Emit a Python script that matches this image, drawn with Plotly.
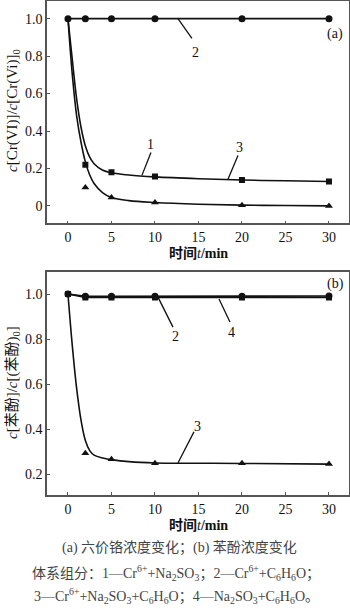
import plotly.graph_objects as go

# ---- measured data ----
t_pts = [0, 2, 5, 10, 20, 30]

# (a) Cr(VI) relative concentration
a_sys1 = [1.0, 0.22, 0.179, 0.157, 0.138, 0.13]      # squares
a_sys2 = [1.0, 1.0, 1.0, 1.0, 1.0, 1.0]              # circles
a_sys3 = [1.0, 0.098, 0.045, 0.018, 0.003, 0.0]      # triangles

# fitted curves for panel (a)
a_fit_t = [0, 0.5, 1, 1.5, 2, 2.5, 3, 4, 5, 7, 10, 15, 20, 25, 30]
a_fit_upper = [1.0, 0.78, 0.57, 0.42, 0.32, 0.26, 0.225, 0.19, 0.177, 0.165, 0.155, 0.145, 0.138, 0.134, 0.13]
a_fit_lower = [1.0, 0.70, 0.48, 0.34, 0.235, 0.165, 0.12, 0.07, 0.045, 0.028, 0.018, 0.009, 0.004, 0.002, 0.0]

# (b) phenol relative concentration
b_sys2 = [1.0, 0.99, 0.99, 0.99, 0.99, 0.991]        # circles
b_sys4 = [1.0, 0.985, 0.985, 0.985, 0.985, 0.985]    # squares
b_sys3 = [1.0, 0.293, 0.267, 0.249, 0.249, 0.246]    # triangles

b_fit_t = [0, 0.5, 1, 1.5, 2, 2.5, 3, 4, 5, 7, 10, 15, 20, 30]
b_fit = [1.0, 0.77, 0.58, 0.44, 0.35, 0.305, 0.285, 0.272, 0.265, 0.256, 0.25, 0.249, 0.248, 0.245]

x_ticks = [0, 5, 10, 15, 20, 25, 30]
ya_ticks = [0, 0.2, 0.4, 0.6, 0.8, 1.0]
ya_labels = ["0", "0.2", "0.4", "0.6", "0.8", "1.0"]
yb_ticks = [0.2, 0.4, 0.6, 0.8, 1.0]
yb_labels = ["0.2", "0.4", "0.6", "0.8", "1.0"]

SERIF = "Liberation Serif, Times New Roman, Noto Sans CJK SC, serif"
CJK = "Liberation Serif, Noto Sans CJK SC, serif"
BLACK = "#111111"
FRAME = "#555555"

fig = go.Figure()

def line(x, y, xa, ya, shape="linear"):
    fig.add_trace(go.Scatter(x=x, y=y, mode="lines", xaxis=xa, yaxis=ya,
                             line=dict(color=BLACK, width=1.6, shape=shape, smoothing=1.0),
                             hoverinfo="skip", showlegend=False))

def marks(x, y, xa, ya, symbol, size):
    fig.add_trace(go.Scatter(x=x, y=y, mode="markers", xaxis=xa, yaxis=ya,
                             marker=dict(symbol=symbol, size=size, color=BLACK),
                             showlegend=False))

# panel (a)
line(a_fit_t, a_fit_upper, "x", "y", "spline")
line(a_fit_t, a_fit_lower, "x", "y", "spline")
line(t_pts, a_sys2, "x", "y")
marks(t_pts[1:], a_sys1[1:], "x", "y", "square", 6)
marks(t_pts[1:], a_sys3[1:], "x", "y", "triangle-up", 7)
marks(t_pts, a_sys2, "x", "y", "circle", 7)

# panel (b)
line(b_fit_t, b_fit, "x2", "y2", "spline")
line(t_pts, b_sys4, "x2", "y2")
line(t_pts, b_sys2, "x2", "y2")
marks(t_pts[1:], b_sys3[1:], "x2", "y2", "triangle-up", 7)
marks(t_pts, b_sys4, "x2", "y2", "square", 6)
marks(t_pts, b_sys2, "x2", "y2", "circle", 7)

H = 609.0
W = 350.0
xdom = [47 / W, 349 / W]

axis_common = dict(showline=True, linecolor=FRAME, linewidth=1.5, mirror=True,
                   ticks="inside", ticklen=3, tickcolor=FRAME, tickwidth=1,
                   showgrid=False, zeroline=False,
                   tickfont=dict(family=SERIF, size=14, color=BLACK))

fig.update_layout(
    width=350, height=609,
    margin=dict(l=0, r=0, t=0, b=0),
    paper_bgcolor="white", plot_bgcolor="white",
    xaxis=dict(domain=xdom, range=[-2.41, 32.3], tickvals=x_ticks, anchor="y", **axis_common),
    yaxis=dict(domain=[1 - 223.3 / H, 1 - 0.5 / H], range=[-0.093, 1.097],
               tickvals=ya_ticks, ticktext=ya_labels, anchor="x", **axis_common),
    xaxis2=dict(domain=xdom, range=[-2.41, 32.3], tickvals=x_ticks, anchor="y2", **axis_common),
    yaxis2=dict(domain=[1 - 495 / H, 1 - 271.7 / H], range=[0.108, 1.099],
                tickvals=yb_ticks, ticktext=yb_labels, anchor="x2", **axis_common),
)

ann = []
shapes = []

def label(text, x, y, xr, yr, size=14):
    ann.append(dict(text=text, x=x, y=y, xref=xr, yref=yr, showarrow=False,
                    font=dict(family=SERIF, size=size, color=BLACK)))

def leader(x0, y0, x1, y1, xr, yr):
    shapes.append(dict(type="line", x0=x0, y0=y0, x1=x1, y1=y1, xref=xr, yref=yr,
                       line=dict(color=BLACK, width=1.3)))

# panel (a) curve labels
label("2", 14.7, 0.819, "x", "y")
leader(12.64, 1.0, 14.25, 0.895, "x", "y")
label("1", 9.54, 0.328, "x", "y")
leader(9.54, 0.285, 8.5, 0.163, "x", "y")
label("3", 19.77, 0.312, "x", "y")
leader(19.54, 0.269, 18.39, 0.142, "x", "y")
label("(a)", 30.7, 0.92, "x", "y")

# panel (b) curve labels
label("2", 12.41, 0.811, "x2", "y2")
leader(10.23, 0.995, 12.07, 0.853, "x2", "y2")
label("4", 18.85, 0.827, "x2", "y2")
leader(17.36, 0.978, 18.62, 0.876, "x2", "y2")
label("3", 14.83, 0.41, "x2", "y2")
leader(14.48, 0.388, 12.64, 0.25, "x2", "y2")
label("(b)", 30.7, 1.045, "x2", "y2")

def paper_text(text, px, py, size=14, angle=0, color=BLACK, family=CJK):
    ann.append(dict(text=text, x=px / W, y=1 - py / H, xref="paper", yref="paper",
                    showarrow=False, textangle=angle, xanchor="center", yanchor="middle",
                    font=dict(family=family, size=size, color=color)))

# axis titles
paper_text("<b>时间</b><i>t</i><b>/min</b>", 198, 253, size=14)
paper_text("<b>时间</b><i>t</i><b>/min</b>", 198, 525, size=14)
paper_text("<i>c</i>[Cr(VI)]/<i>c</i>[Cr(Vi)]<sub>0</sub>", 13, 111, size=15, angle=-90)
paper_text("<i>c</i>[苯酚]/<i>c</i>[(苯酚)<sub>0</sub>]", 13, 383, size=15, angle=-90)

# caption
CAP = "#444444"
paper_text("(a) 六价铬浓度变化；(b) 苯酚浓度变化", 179, 547, size=14, color=CAP)
paper_text("体系组分：1—Cr<sup>6+</sup>+Na<sub>2</sub>SO<sub>3</sub>；2—Cr<sup>6+</sup>+C<sub>6</sub>H<sub>6</sub>O；",
           176, 573, size=14, color=CAP)
paper_text("3—Cr<sup>6+</sup>+Na<sub>2</sub>SO<sub>3</sub>+C<sub>6</sub>H<sub>6</sub>O；4—Na<sub>2</sub>SO<sub>3</sub>+C<sub>6</sub>H<sub>6</sub>O。",
           176, 596, size=14, color=CAP)

fig.update_layout(annotations=ann, shapes=shapes)

fig.write_html("out.html")
